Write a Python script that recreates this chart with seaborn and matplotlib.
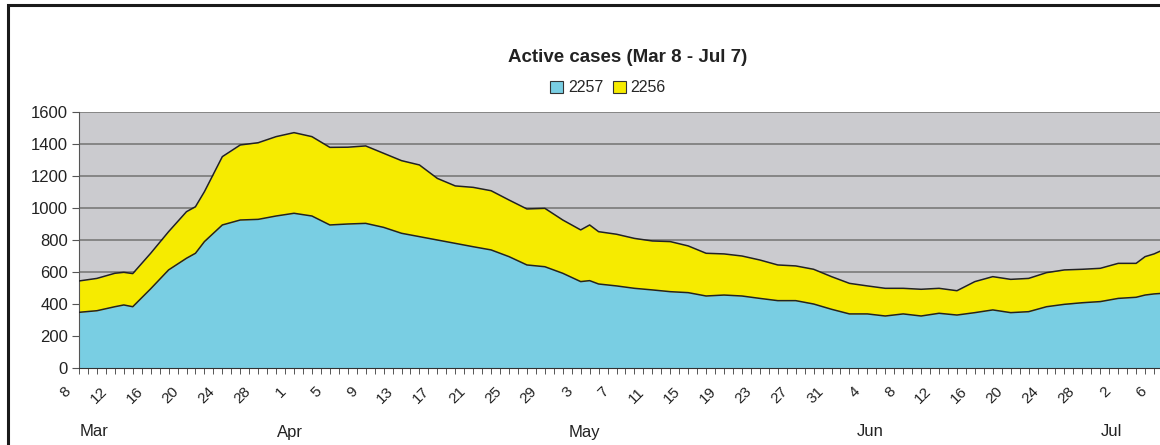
import numpy as np
import pandas as pd
import seaborn as sns
from matplotlib import pyplot as plt
from matplotlib import transforms
from matplotlib.patches import Rectangle

# days after Mar 8
days = [0, 2, 4, 5, 6, 8, 10, 12, 13, 14, 16, 18, 20, 22, 24, 26, 28, 30, 32, 34,
        36, 38, 40, 42, 44, 46, 48, 50, 52, 54, 56, 57, 58, 60, 62, 64, 66, 68, 70,
        72, 74, 76, 78, 80, 82, 84, 86, 88, 90, 92, 94, 96, 98, 100, 102, 104, 106,
        108, 110, 112, 114, 116, 118, 119, 120, 121]
cases_2257 = [348, 358, 383, 394, 383, 495, 613, 686, 717, 790, 894, 925, 929, 950,
              967, 950, 894, 900, 904, 879, 842, 821, 800, 779, 758, 738, 696, 644,
              633, 592, 540, 546, 525, 513, 498, 488, 477, 471, 450, 456, 450, 435,
              421, 421, 400, 367, 338, 338, 325, 338, 325, 342, 331, 346, 363, 346,
              352, 383, 398, 408, 415, 435, 442, 456, 463, 467]
cases_2256 = [196, 202, 209, 204, 207, 222, 239, 291, 291, 312, 427, 469, 479, 496,
              504, 496, 485, 480, 484, 463, 454, 448, 385, 359, 371, 370, 354, 350,
              365, 333, 323, 348, 327, 323, 312, 306, 313, 292, 267, 257, 250, 240,
              223, 217, 217, 204, 191, 175, 173, 160, 167, 156, 152, 194, 208, 208,
              208, 213, 215, 209, 208, 219, 212, 240, 250, 271]
series_names = ['2257', '2256']
month_names = ['Mar', 'Apr', 'May', 'Jun', 'Jul']
title = 'Active cases (Mar 8 - Jul 7)'

start = pd.Timestamp('2020-03-08')
all_dates = pd.date_range(start, '2020-07-07')
month_pos = [1.7, 23.5, 56.4, 88.3, 115.2]

df = pd.DataFrame({'day': days, 'c2257': cases_2257, 'c2256': cases_2256})
df['total'] = df['c2257'] + df['c2256']

blue = '#79cee3'
yellow = '#f6eb00'

sns.set_style('white')
plt.rcParams['font.family'] = ['Liberation Sans', 'DejaVu Sans']

fig = plt.figure(figsize=(11.6, 4.45), dpi=100)
ax = fig.add_axes([79 / 1160, 1 - 368 / 445, 1084 / 1160, 256 / 445])
ax.set_facecolor('#cbcbcf')

ax.fill_between(df['day'], 0, df['c2257'], color=blue, lw=0, zorder=2)
ax.fill_between(df['day'], df['c2257'], df['total'], color=yellow, lw=0, zorder=2)
sns.lineplot(data=df, x='day', y='c2257', color='#222222', lw=1.1, ax=ax, zorder=3)
sns.lineplot(data=df, x='day', y='total', color='#222222', lw=1.1, ax=ax, zorder=3)

ax.set_xlim(0, len(all_dates) - 1)
ax.set_ylim(0, 1600)
ax.set_yticks(np.arange(0, 1601, 200))
ax.yaxis.grid(True, color='#808080', lw=1.3)
ax.set_axisbelow(True)
ax.tick_params(axis='y', labelsize=12, length=5, width=0.8, color='#555555',
               left=True, pad=3, labelcolor='#222222')

ticks = np.arange(len(all_dates))
ax.set_xticks(ticks)
ax.set_xticklabels([str(d.day) if i % 4 == 0 else '' for i, d in enumerate(all_dates)],
                   rotation=45, ha='right', rotation_mode='anchor')
ax.tick_params(axis='x', labelsize=11, length=4, width=0.7, color='#555555',
               bottom=True, pad=8, labelcolor='#222222')
shift = transforms.ScaledTranslation(-0.15, 0, fig.dpi_scale_trans)
for lab in ax.get_xticklabels():
    lab.set_transform(lab.get_transform() + shift)

for s in ['top', 'right']:
    ax.spines[s].set_visible(False)
ax.spines['left'].set_color('#555555')
ax.spines['bottom'].set_color('#333333')
ax.set_xlabel('')
ax.set_ylabel('')

trans = transforms.blended_transform_factory(ax.transData, fig.transFigure)
for name, pos in zip(month_names, month_pos):
    fig.text(pos, 1 - 432 / 445, name, transform=trans, ha='center', va='center',
             fontsize=12, color='#222222')

fig.text(628 / 1160, 1 - 57 / 445, title, ha='center', va='center', fontsize=13.5,
         fontweight='bold', color='#222222')

handles = [Rectangle((0, 0), 1, 1, fc=blue, ec='#333333', lw=0.8),
           Rectangle((0, 0), 1, 1, fc=yellow, ec='#333333', lw=0.8)]
fig.legend(handles, series_names, loc='center', bbox_to_anchor=(608 / 1160, 1 - 88 / 445),
           ncol=2, frameon=False, fontsize=11.5, handlelength=0.8, handleheight=0.8,
           handletextpad=0.3, columnspacing=0.6)

fig.patches.append(Rectangle((8 / 1160, -0.1), 1.2, 1 - 5 / 445 + 0.1, transform=fig.transFigure,
                             fill=False, ec='#1a1a1a', lw=2.2))

fig.savefig('out.png', dpi=100)
